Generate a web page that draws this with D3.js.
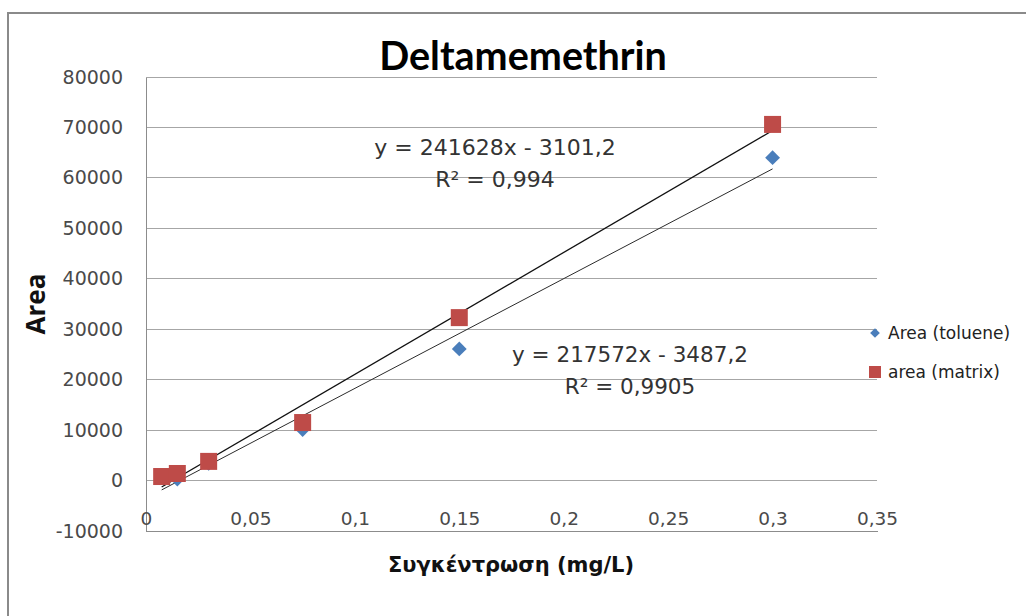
<!DOCTYPE html>
<html>
<head>
<meta charset="utf-8">
<script src="https://cdn.jsdelivr.net/npm/d3@7"></script>
<style>
  html, body { margin: 0; padding: 0; background: #fff; }
  svg { display: block; }
</style>
</head>
<body>
<svg id="chart" width="1026" height="616"></svg>
<script>
// ---- data ----
const concentrations = [0.0075, 0.015, 0.03, 0.075, 0.15, 0.3];
const areaToluene = [600, 300, 3400, 10100, 26100, 64000];
const areaMatrix = [800, 1400, 3800, 11500, 32300, 70600];
const seriesNames = ["Area (toluene)", "area (matrix)"];
const trendToluene = { slope: 217572, intercept: -3487.2, label: "y = 217572x - 3487,2", r2: "R² = 0,9905" };
const trendMatrix = { slope: 241628, intercept: -3101.2, label: "y = 241628x - 3101,2", r2: "R² = 0,994" };
const yTicks = [-10000, 0, 10000, 20000, 30000, 40000, 50000, 60000, 70000, 80000];
const xTicks = [0, 0.05, 0.1, 0.15, 0.2, 0.25, 0.3, 0.35];
const title = "Deltamemethrin";
const xTitle = "Συγκέντρωση (mg/L)";
const yTitle = "Area";

const svg = d3.select("#chart");
const font = "'DejaVu Sans', sans-serif";

// outer border
svg.append("rect").attr("x", 8).attr("y", 13).attr("width", 1030).attr("height", 620)
  .attr("fill", "#fff").attr("stroke", "#8a8a8a").attr("stroke-width", 2);

const x = d3.scaleLinear().domain([0, 0.35]).range([146, 877]);
const y = d3.scaleLinear().domain([-10000, 80000]).range([531, 77]);

// gridlines
svg.append("g").selectAll("line").data(yTicks).join("line")
  .attr("x1", x(0)).attr("x2", x(0.35))
  .attr("y1", d => y(d)).attr("y2", d => y(d))
  .attr("stroke", "#a6a6a6").attr("stroke-width", 1).attr("shape-rendering", "crispEdges");

// y axis
const yAxis = d3.axisLeft(y).tickValues(yTicks).tickSize(0).tickPadding(23).tickFormat(d => String(d));
const gy = svg.append("g").attr("transform", `translate(${x(0)},0)`).call(yAxis);
gy.select(".domain").attr("stroke", "#8c8c8c").attr("shape-rendering", "crispEdges");
gy.selectAll("text").attr("font-family", font).attr("font-size", 19).attr("fill", "#4a4a4a");

// x axis labels (placed above bottom line, as in reference)
const xAxis = d3.axisBottom(x).tickValues(xTicks).tickSize(0).tickPadding(0)
  .tickFormat(d => String(d).replace(".", ","));
const gx = svg.append("g").attr("transform", `translate(0,${y(-10000)})`).call(xAxis);
gx.select(".domain").attr("stroke", "#8c8c8c").attr("shape-rendering", "crispEdges");
gx.selectAll("text").attr("font-family", font).attr("font-size", 18.5).attr("fill", "#4a4a4a")
  .attr("dy", null).attr("y", -6);

// trendlines
function trend(t) {
  const x0 = d3.min(concentrations), x1 = d3.max(concentrations);
  return [[x0, t.slope * x0 + t.intercept], [x1, t.slope * x1 + t.intercept]];
}
const line = d3.line().x(d => x(d[0])).y(d => y(d[1]));
svg.append("path").attr("d", line(trend(trendToluene))).attr("stroke", "#2b2b2b").attr("stroke-width", 1).attr("fill", "none");
svg.append("path").attr("d", line(trend(trendMatrix))).attr("stroke", "#111").attr("stroke-width", 1.3).attr("fill", "none");

// points
const tol = concentrations.map((c, i) => [c, areaToluene[i]]);
const mat = concentrations.map((c, i) => [c, areaMatrix[i]]);
svg.append("g").selectAll("path").data(tol).join("path")
  .attr("d", d3.symbol().type(d3.symbolDiamond2).size(140))
  .attr("transform", d => `translate(${x(d[0])},${y(d[1])})`)
  .attr("fill", "#4a7ebb");
svg.append("g").selectAll("rect").data(mat).join("rect")
  .attr("x", d => x(d[0]) - 8.5).attr("y", d => y(d[1]) - 8.5)
  .attr("width", 17).attr("height", 17).attr("fill", "#be4b48");

// equation labels
function eq(t, cx, cy, fs) {
  const g = svg.append("g").attr("font-family", font).attr("font-size", fs).attr("fill", "#333").attr("text-anchor", "middle");
  g.append("text").attr("x", cx).attr("y", cy).text(t.label);
  g.append("text").attr("x", cx).attr("y", cy + 32).text(t.r2);
}
eq(trendMatrix, 495, 155, 22);
eq(trendToluene, 630, 362, 21.5);

// title
svg.append("text").attr("x", 523).attr("y", 70).attr("text-anchor", "middle")
  .attr("font-family", "Lato, sans-serif").attr("font-weight", "bold").attr("font-size", 39.5)
  .attr("fill", "#000").text(title);

// axis titles
svg.append("text").attr("x", 511).attr("y", 572).attr("text-anchor", "middle")
  .attr("font-family", font).attr("font-weight", "bold").attr("font-size", 21).attr("fill", "#111").text(xTitle);
svg.append("text").attr("transform", "translate(45,304) rotate(-90)").attr("text-anchor", "middle")
  .attr("font-family", "'Open Sans', sans-serif").attr("font-weight", "bold").attr("font-size", 26).attr("fill", "#111").text(yTitle);

// legend
const legend = svg.append("g").attr("font-family", font).attr("font-size", 17).attr("fill", "#222");
const l1 = legend.append("g").attr("transform", "translate(875,333)");
l1.append("path").attr("d", d3.symbol().type(d3.symbolDiamond2).size(60)).attr("fill", "#4a7ebb");
l1.append("text").attr("x", 13).attr("y", 6).text(seriesNames[0]);
const l2 = legend.append("g").attr("transform", "translate(875,372)");
l2.append("rect").attr("x", -6).attr("y", -6).attr("width", 12).attr("height", 12).attr("fill", "#be4b48");
l2.append("text").attr("x", 13).attr("y", 6).text(seriesNames[1]);
</script>
</body>
</html>
